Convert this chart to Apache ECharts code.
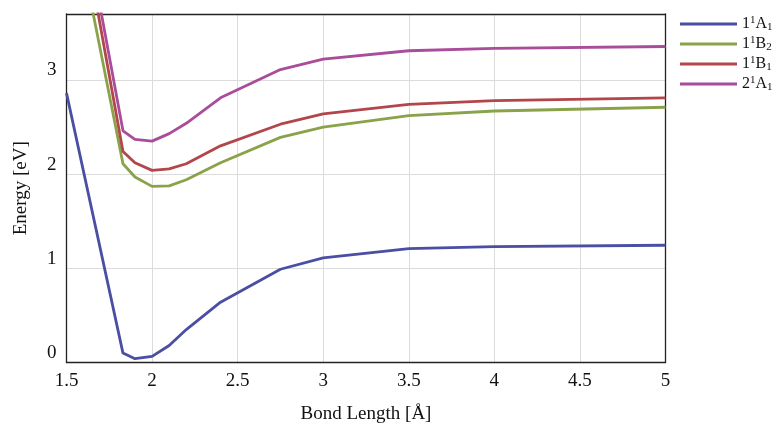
<!DOCTYPE html>
<html><head><meta charset="utf-8">
<script src="https://cdn.jsdelivr.net/npm/echarts@6/dist/echarts.min.js"></script>
<style>html,body{margin:0;padding:0;background:#fff}#c{width:777px;height:426px}</style>
</head><body><div id="c"></div>
<script>
const bondLength = [1.5, 1.83, 1.9, 2.0, 2.1, 2.2, 2.4, 2.75, 3.0, 3.5, 4.0, 5.0];
const A1_1 = [2.76, 0.0, -0.06, -0.035, 0.08, 0.25, 0.54, 0.89, 1.01, 1.11, 1.13, 1.145];
const B2_1 = [5.03, 2.01, 1.87, 1.77, 1.775, 1.84, 2.02, 2.29, 2.40, 2.52, 2.57, 2.61];
const B1_1 = [5.47, 2.14, 2.02, 1.94, 1.955, 2.01, 2.20, 2.43, 2.54, 2.64, 2.68, 2.71];
const A1_2 = [5.61, 2.36, 2.27, 2.25, 2.33, 2.44, 2.71, 3.01, 3.12, 3.21, 3.235, 3.255];
const seriesNames = ['1¹A₁', '1¹B₂', '1¹B₁', '2¹A₁'];
const legendRich = {
  '1¹A₁': ['1','1','A','1'], '1¹B₂': ['1','1','B','2'], '1¹B₁': ['1','1','B','1'], '2¹A₁': ['2','1','A','1']
};
const colors = ['#4a4fa3', '#8aa24a', '#b2464a', '#a94d9b'];
const xTicks = [1.5, 2, 2.5, 3, 3.5, 4, 4.5, 5];
const yTicks = [0, 1, 2, 3];
const allData = [A1_1, B2_1, B1_1, A1_2];
const FONT = '"Liberation Serif", "Times New Roman", serif';
const frame = {show: true, onZero: false, lineStyle: {color: '#222', width: 1.3}};

const chart = echarts.init(document.getElementById('c'), null, {renderer: 'canvas'});
chart.setOption({
  animation: false,
  backgroundColor: '#fff',
  grid: {left: 66.5, right: 111.5, top: 14, bottom: 63.5, containLabel: false, outerBoundsMode: 'none'},
  legend: {
    orient: 'vertical', left: 675, top: 10, itemWidth: 57, itemHeight: 3, itemGap: 2,
    icon: 'rect',
    data: seriesNames,
    textStyle: {
      fontFamily: FONT, fontSize: 16, color: '#111',
      rich: {
        n: {fontFamily: FONT, fontSize: 16, color: '#111', lineHeight: 18},
        sup: {fontFamily: FONT, fontSize: 11, color: '#111', verticalAlign: 'top', lineHeight: 11, padding: [0,0,7,0]},
        sub: {fontFamily: FONT, fontSize: 11, color: '#111', verticalAlign: 'bottom', lineHeight: 11, padding: [7,0,0,0]}
      }
    },
    formatter: function (name) {
      const p = legendRich[name];
      return '{n|' + p[0] + '}{sup|' + p[1] + '}{n|' + p[2] + '}{sub|' + p[3] + '}';
    }
  },
  xAxis: [{
    type: 'value', min: 1.5, max: 5, interval: 0.5,
    name: 'Bond Length [Å]', nameLocation: 'middle', nameGap: 42,
    nameTextStyle: {fontFamily: FONT, fontSize: 19, color: '#111'},
    axisLine: frame,
    axisTick: {show: false},
    axisLabel: {fontFamily: FONT, fontSize: 19, color: '#111', margin: 9,
      formatter: v => (xTicks.indexOf(v) >= 0 ? String(v) : '')},
    splitLine: {show: true, lineStyle: {color: '#dcdcdc', width: 1}}
  }, {
    type: 'value', min: 1.5, max: 5, position: 'top',
    axisLine: frame, axisTick: {show: false}, axisLabel: {show: false}, splitLine: {show: false}
  }],
  yAxis: [{
    type: 'value', min: -0.1, max: 3.6,
    name: 'Energy [eV]', nameLocation: 'middle', nameGap: 36, nameRotate: 90,
    nameTextStyle: {fontFamily: FONT, fontSize: 19, color: '#111'},
    axisLine: frame,
    axisTick: {show: false},
    axisLabel: {fontFamily: FONT, fontSize: 19, color: '#111', margin: 10,
      customValues: yTicks, formatter: v => String(v)},
    splitLine: {show: true, lineStyle: {color: '#dcdcdc', width: 1}},
    interval: 1
  }, {
    type: 'value', min: -0.1, max: 3.6, position: 'right',
    axisLine: frame, axisTick: {show: false}, axisLabel: {show: false}, splitLine: {show: false}
  }],
  series: seriesNames.map((n, i) => ({
    name: n, type: 'line', showSymbol: false, symbol: 'none', clip: true,
    lineStyle: {width: 2.8, color: colors[i]}, itemStyle: {color: colors[i]},
    data: bondLength.map((x, j) => [x, allData[i][j]])
  }))
});
</script></body></html>
